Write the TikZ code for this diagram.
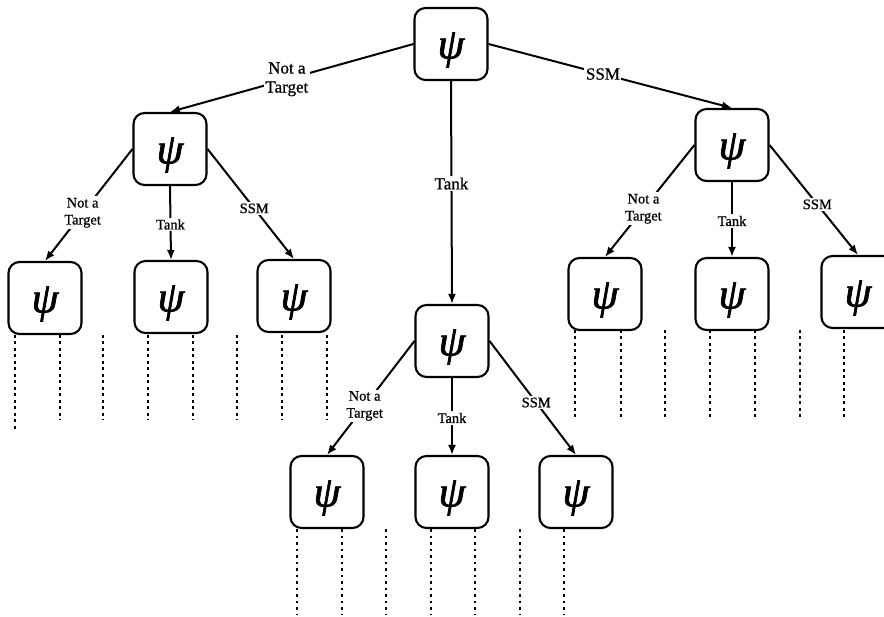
\documentclass[tikz,border=0pt]{standalone}
\usepackage{fontspec}
\setmainfont{Liberation Serif}[FakeBold=0.8]
\newfontface\psiface{Liberation Serif Italic}[FakeBold=1.6]
\usetikzlibrary{arrows.meta}
\begin{document}
\begin{tikzpicture}[x=1pt,y=-1pt,
  psibox/.style={draw, line width=2.1pt, rounded corners=11pt,
    minimum width=73pt, minimum height=72pt, inner sep=0pt,
    label={[font=\fontsize{43}{43}\psiface, yshift=-6pt]center:ψ}},
  edge/.style={line width=2pt, -{Latex[length=10pt,width=8pt]}},
  toplab/.style={fill=white, inner sep=1.5pt, align=center,
    font=\fontsize{17}{19}\selectfont},
  sublab/.style={fill=white, inner sep=1.5pt, align=center,
    font=\fontsize{14.5}{17}\selectfont},
  trail/.style={line width=2.3pt, dash pattern=on 2.6pt off 3.9pt}]

\clip (0,0) rectangle (884,617);
\fill[white] (0,0) rectangle (884,617);

% decision tree nodes
\node[psibox] (root) at (451,44)  {};
\node[psibox] (L)    at (170,149) {};
\node[psibox] (M)    at (452,341) {};
\node[psibox] (R)    at (732,145) {};

\node[psibox] (LL1) at (45,298)  {};
\node[psibox] (LL2) at (171,297) {};
\node[psibox] (LL3) at (294,296) {};

\node[psibox] (RL1) at (605,294) {};
\node[psibox] (RL2) at (732,294) {};
\node[psibox] (RL3) at (858,292) {};

\node[psibox] (ML1) at (327,492) {};
\node[psibox] (ML2) at (452,492) {};
\node[psibox] (ML3) at (576,492) {};

% first level branches
\draw[edge] (root.west)  -- node[toplab, pos=0.52] {Not a\\Target} (L.north);
\draw[edge] (root.south) -- node[toplab, pos=0.46] {Tank} (M.north);
\draw[edge] (root.east)  -- node[toplab, pos=0.47] {SSM} (R.north);

% second level branches
\foreach \p/\a/\b/\c in {L/LL1/LL2/LL3, R/RL1/RL2/RL3, M/ML1/ML2/ML3}{
  \draw[edge] (\p.west)  -- node[sublab, pos=0.57] {Not a\\Target} (\a.north);
  \draw[edge] (\p.south) -- node[sublab, pos=0.52] {Tank} (\b.north);
  \draw[edge] (\p.east)  -- node[sublab, pos=0.54] {SSM} (\c.north);
}

% continuation of the tree below each leaf
\draw[trail] (15,335) -- (15,431);
\foreach \x in {60,103,148,193,237,282,327}
  \draw[trail] (\x,335) -- (\x,420);
\foreach \x in {575,621,665,710,755,800,844}
  \draw[trail] (\x,330) -- (\x,417);
\foreach \x in {297,342,386,431,475,520,564}
  \draw[trail] (\x,529) -- (\x,615);
\end{tikzpicture}
\end{document}
